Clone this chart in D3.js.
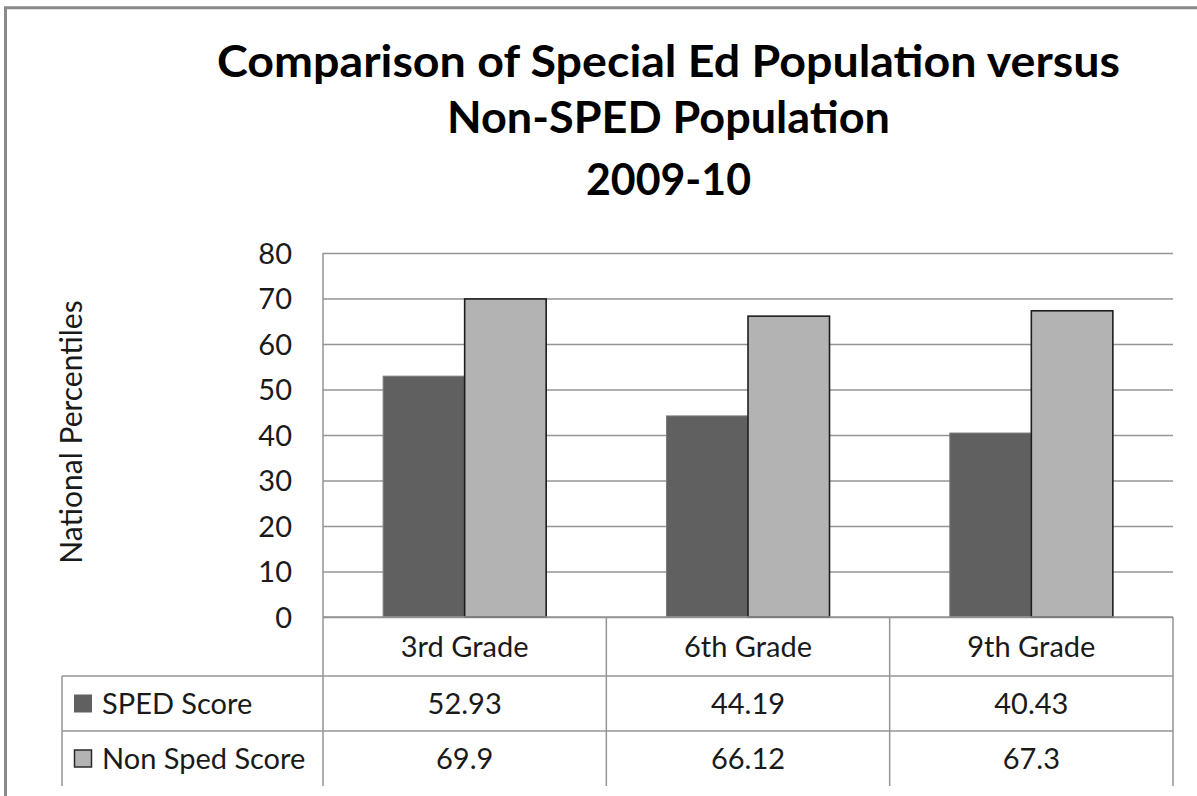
<!DOCTYPE html>
<html>
<head>
<meta charset="utf-8">
<script src="https://cdn.jsdelivr.net/npm/d3@7"></script>
<style>
  html, body { margin: 0; padding: 0; background: #fff; }
  svg { display: block; }
  text { font-family: Lato, "Open Sans", sans-serif; }
</style>
</head>
<body>
<svg id="chart" width="1197" height="796"></svg>
<script>
// ---- data ----
const titleLines = ["Comparison of Special Ed Population versus", "Non-SPED Population", "2009-10"];
const yAxisTitle = "National Percentiles";
const categories = ["3rd Grade", "6th Grade", "9th Grade"];
const seriesNames = ["SPED Score", "Non Sped Score"];
const spedScores = [52.93, 44.19, 40.43];
const nonSpedScores = [69.9, 66.12, 67.3];
const spedLabels = ["52.93", "44.19", "40.43"];
const nonSpedLabels = ["69.9", "66.12", "67.3"];
const yTicks = [0, 10, 20, 30, 40, 50, 60, 70, 80];

const seriesValues = [spedScores, nonSpedScores];
const seriesLabels = [spedLabels, nonSpedLabels];
const seriesFill = ["#606060", "#b3b3b3"];
const seriesStroke = ["#7a7a7a", "#1e1e1e"];

// ---- layout ----
const svg = d3.select("#chart");
const plotL = 323, plotR = 1173, plotT = 253, plotB = 617;
const rowH = [617, 676, 731, 786];
const tableL = 62;
const gridColor = "#959595";
const bodySize = 29;
const titleWidths = [903, 443, 165];
const titleBaselines = [77, 133, 195];

// frame (cut off at right and bottom)
svg.append("path")
  .attr("d", `M5.5,800 L5.5,7.8 L1200,7.8`)
  .attr("fill", "none").attr("stroke", "#8a8a8a").attr("stroke-width", 3);

// title
titleLines.forEach((t, i) => {
  const el = svg.append("text")
    .attr("x", 668.5).attr("y", titleBaselines[i])
    .attr("text-anchor", "middle")
    .attr("font-weight", "bold").attr("font-size", 44).attr("fill", "#000")
    .text(t);
  const w = el.node().getComputedTextLength();
  if (Math.abs(w - titleWidths[i]) > 4) {
    el.attr("textLength", titleWidths[i]).attr("lengthAdjust", "spacingAndGlyphs");
  }
});

// scales
const y = d3.scaleLinear().domain([0, 80]).range([plotB, plotT]);
const x0 = d3.scaleBand().domain(categories).range([plotL, plotR]).padding(0);
const x1 = d3.scaleBand().domain(seriesNames).range([0, x0.bandwidth()])
  .paddingInner(0).paddingOuter(0.738);

// gridlines via axis
const yGrid = d3.axisLeft(y).tickValues(yTicks).tickSize(-(plotR - plotL)).tickFormat("");
const g = svg.append("g").attr("transform", `translate(${plotL},0)`).call(yGrid);
g.select(".domain").remove();
g.selectAll(".tick line").attr("stroke", gridColor).attr("stroke-width", 1.5);

// y tick labels via axis
const yAx = d3.axisLeft(y).tickValues(yTicks).tickSize(0).tickPadding(0);
const ga = svg.append("g").attr("transform", `translate(292,0)`).call(yAx);
ga.select(".domain").remove();
ga.selectAll("text").attr("font-size", bodySize).attr("fill", "#1a1a1a")
  .attr("font-family", "Lato, sans-serif").attr("dy", "0.36em");

// y axis line (plot left edge) continuing into table
svg.append("line").attr("x1", plotL).attr("x2", plotL).attr("y1", plotT).attr("y2", rowH[3])
  .attr("stroke", gridColor).attr("stroke-width", 1.5);

// bars
seriesNames.forEach((s, si) => {
  svg.append("g").selectAll("rect")
    .data(categories.map((c, ci) => ({c, v: seriesValues[si][ci]})))
    .join("rect")
    .attr("x", d => x0(d.c) + x1(s))
    .attr("y", d => y(d.v))
    .attr("width", x1.bandwidth())
    .attr("height", d => y(0) - y(d.v))
    .attr("fill", seriesFill[si])
    .attr("stroke", seriesStroke[si])
    .attr("stroke-width", si === 0 ? 1 : 1.6);
});

// table lines
svg.append("line").attr("x1", plotL).attr("x2", plotR).attr("y1", rowH[0]).attr("y2", rowH[0])
  .attr("stroke", gridColor).attr("stroke-width", 1.5);
[rowH[1], rowH[2]].forEach(yy => {
  svg.append("line").attr("x1", tableL).attr("x2", plotR).attr("y1", yy).attr("y2", yy)
    .attr("stroke", gridColor).attr("stroke-width", 1.5);
});
categories.forEach(c => {
  svg.append("line").attr("x1", x0(c) + x0.bandwidth()).attr("x2", x0(c) + x0.bandwidth())
    .attr("y1", rowH[0]).attr("y2", rowH[3])
    .attr("stroke", gridColor).attr("stroke-width", 1.5);
});
svg.append("line").attr("x1", tableL).attr("x2", tableL).attr("y1", rowH[1]).attr("y2", rowH[3])
  .attr("stroke", gridColor).attr("stroke-width", 1.5);

// category labels
svg.append("g").selectAll("text").data(categories).join("text")
  .attr("x", d => x0(d) + x0.bandwidth() / 2)
  .attr("y", 657)
  .attr("text-anchor", "middle").attr("font-size", bodySize).attr("fill", "#1a1a1a")
  .text(d => d);

// values rows + legend keys
seriesNames.forEach((s, si) => {
  const cy = (rowH[si + 1] + rowH[si + 2]) / 2;
  svg.append("g").selectAll("text").data(categories).join("text")
    .attr("x", d => x0(d) + x0.bandwidth() / 2)
    .attr("y", cy).attr("dy", "0.36em")
    .attr("text-anchor", "middle").attr("font-size", bodySize).attr("fill", "#1a1a1a")
    .text((d, ci) => seriesLabels[si][ci]);
  svg.append("rect")
    .attr("x", 74.5).attr("y", cy - 8.5).attr("width", 17).attr("height", 17)
    .attr("fill", seriesFill[si]).attr("stroke", si === 0 ? seriesFill[0] : "#2a2a2a")
    .attr("stroke-width", si === 0 ? 1 : 1.5);
  svg.append("text").attr("x", 102).attr("y", cy).attr("dy", "0.36em")
    .attr("font-size", bodySize).attr("fill", "#1a1a1a").text(s);
});

// y axis title
svg.append("text")
  .attr("transform", `translate(82,432) rotate(-90)`)
  .attr("text-anchor", "middle").attr("font-size", 30).attr("fill", "#1a1a1a")
  .text(yAxisTitle);
</script>
</body>
</html>
